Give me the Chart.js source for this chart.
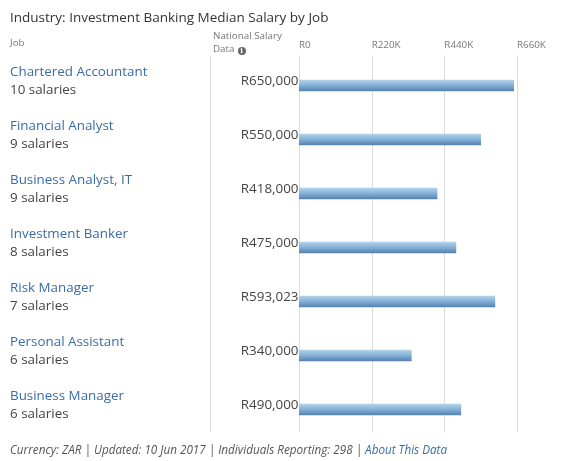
<!DOCTYPE html>
<html>
<head>
<meta charset="utf-8">
<script src="https://cdn.jsdelivr.net/npm/chart.js@4"></script>
<style>
  html, body { margin: 0; padding: 0; background: #fff; }
  body { width: 562px; height: 461px; position: relative; overflow: hidden; font-family: "Open Sans", sans-serif; }
  #wrap { position: absolute; left: 0; top: 0; width: 562px; height: 461px; }
  .abs { position: absolute; white-space: nowrap; }
  #title { left: 10px; top: 8px; font-size: 13.5px; color: #333; line-height: 18px; }
  #jobhdr { left: 10px; top: 35.5px; font-size: 9.8px; color: #777; line-height: 13px; }
  #nsd { left: 213px; top: 28.5px; font-size: 9.8px; color: #777; line-height: 13.4px; }
  .info { display: inline-block; width: 8px; height: 8px; border-radius: 50%; background: #666; color: #fff; font-size: 7px; line-height: 8px; text-align: center; font-weight: bold; vertical-align: -1px; margin-left: 3px; font-family: "DejaVu Serif", serif; }
  #footer { left: 10px; top: 441px; font-size: 11.7px; font-style: italic; color: #555; line-height: 16px; }
  #footer a { color: #3a6ca6; text-decoration: none; }
</style>
</head>
<body>
<div id="wrap"><canvas id="c" width="562" height="461"></canvas></div>
<div class="abs" id="title">Industry: Investment Banking Median Salary by Job</div>
<div class="abs" id="jobhdr">Job</div>
<div class="abs" id="nsd">National Salary<br>Data<span class="info">i</span></div>
<div class="abs" id="footer">Currency: ZAR | Updated: 10 Jun 2017 | Individuals Reporting: 298 | <a>About This Data</a></div>
<script>
const jobs = ['Chartered Accountant', 'Financial Analyst', 'Business Analyst, IT', 'Investment Banker', 'Risk Manager', 'Personal Assistant', 'Business Manager'];
const salaryCounts = [10, 9, 9, 8, 7, 6, 6];
const medianSalaries = [650000, 550000, 418000, 475000, 593023, 340000, 490000];
const tickValues = [0, 220000, 440000, 660000];
const tickLabels = ['R0', 'R220K', 'R440K', 'R660K'];

const fmt = v => 'R' + v.toLocaleString('en-US');

const gridPlugin = {
  id: 'customGrid',
  beforeDatasetsDraw(chart) {
    const ctx = chart.ctx;
    const x = chart.scales.x;
    const top = 55.5, bottom = 432;
    ctx.save();
    ctx.strokeStyle = '#dcdcdc';
    ctx.lineWidth = 1;
    const xs = [210].concat(x.ticks.map((t, i) => Math.round(x.getPixelForTick(i))));
    xs.forEach(px => {
      ctx.beginPath();
      ctx.moveTo(px + 0.5, top);
      ctx.lineTo(px + 0.5, bottom);
      ctx.stroke();
    });
    ctx.restore();
  }
};

const labelPlugin = {
  id: 'rowLabels',
  afterDatasetsDraw(chart) {
    const ctx = chart.ctx;
    const y = chart.scales.y;
    ctx.save();
    ctx.font = '13.4px "Open Sans", sans-serif';
    ctx.textBaseline = 'middle';
    jobs.forEach((job, i) => {
      const cy = y.getPixelForValue(i);
      ctx.textAlign = 'left';
      ctx.fillStyle = '#3a6ca6';
      ctx.fillText(job, 10, cy - 13.5);
      ctx.fillStyle = '#444';
      ctx.fillText(salaryCounts[i] + ' salaries', 10, cy + 5);
      ctx.textAlign = 'right';
      ctx.fillStyle = '#444';
      ctx.fillText(fmt(medianSalaries[i]), 298.5, cy - 4.5);
    });
    ctx.restore();
  }
};

new Chart(document.getElementById('c'), {
  type: 'bar',
  data: {
    labels: jobs,
    datasets: [{
      data: medianSalaries,
      barThickness: 11,
      borderWidth: 0,
      backgroundColor: (c) => {
        const chart = c.chart;
        if (!chart.chartArea || !chart.scales.y) return '#7fa9d2';
        const cy = chart.scales.y.getPixelForValue(c.dataIndex);
        const g = chart.ctx.createLinearGradient(0, cy - 5.5, 0, cy + 5.5);
        g.addColorStop(0, '#b2d3ea');
        g.addColorStop(0.5, '#84afd7');
        g.addColorStop(1, '#5682b1');
        return g;
      }
    }]
  },
  options: {
    indexAxis: 'y',
    responsive: false,
    animation: false,
    devicePixelRatio: 1,
    layout: { padding: { left: 299, right: 45, top: 0, bottom: 24.5 } },
    plugins: { legend: { display: false }, tooltip: { enabled: false } },
    scales: {
      x: {
        position: 'top',
        min: 0,
        max: 660000,
        afterBuildTicks: (s) => { s.ticks = tickValues.map(v => ({ value: v })); },
        afterFit: (s) => { s.height = 58.5; },
        grid: { display: false, drawTicks: false },
        border: { display: false },
        ticks: {
          align: 'start',
          padding: 7.5,
          color: '#777',
          font: { family: '"Open Sans", sans-serif', size: 9.8 },
          callback: (v, i) => tickLabels[i]
        }
      },
      y: {
        display: false,
        offset: true,
        grid: { display: false }
      }
    }
  },
  plugins: [gridPlugin, labelPlugin]
});
</script>
</body>
</html>
